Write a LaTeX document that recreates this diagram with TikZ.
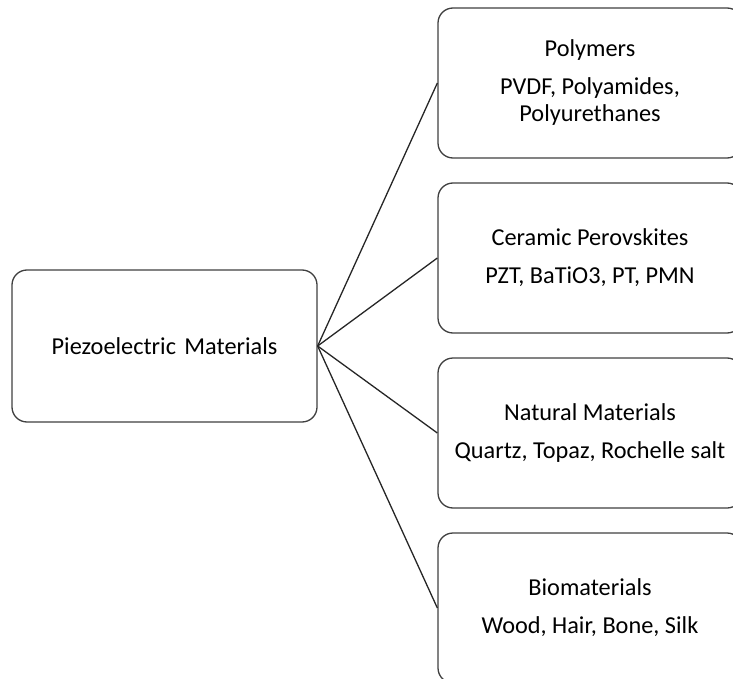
\documentclass[tikz,border=0pt]{standalone}
\usepackage{fontspec}
\setmainfont{Carlito}
\definecolor{edge}{RGB}{64,64,64}
\begin{document}
\begin{tikzpicture}[x=1pt,y=-1pt,
  box/.style={draw=edge, line width=1.3pt, rounded corners=15pt, fill=white,
    minimum height=150pt, align=center, inner sep=0pt, font=\fontsize{24.3}{27}\selectfont},
  root/.style={box, minimum width=305pt, minimum height=152pt},
  leaf/.style={box, minimum width=304pt},
  link/.style={draw=black!85, line width=1.3pt}]
\useasboundingbox (0,0) rectangle (733,679);
\clip (0,0) rectangle (733,679);

\node[root] (pm) at (164.5,346) {Piezoelectric\hspace{0.12em} Materials};

\node[leaf] (poly) at (590,83) {Polymers\\[11pt]PVDF, Polyamides,\\Polyurethanes};
\node[leaf] (cer) at (590,258) {Ceramic Perovskites\\[11pt]PZT, BaTiO3, PT, PMN};
\node[leaf] (nat) at (590,433) {Natural Materials\\[11pt]Quartz, Topaz, Rochelle salt};
\node[leaf] (bio) at (590,608) {Biomaterials\\[11pt]Wood, Hair, Bone, Silk};

\foreach \t in {poly,cer,nat,bio}
  \draw[link] (pm.east) -- (\t.west);
\end{tikzpicture}
\end{document}
